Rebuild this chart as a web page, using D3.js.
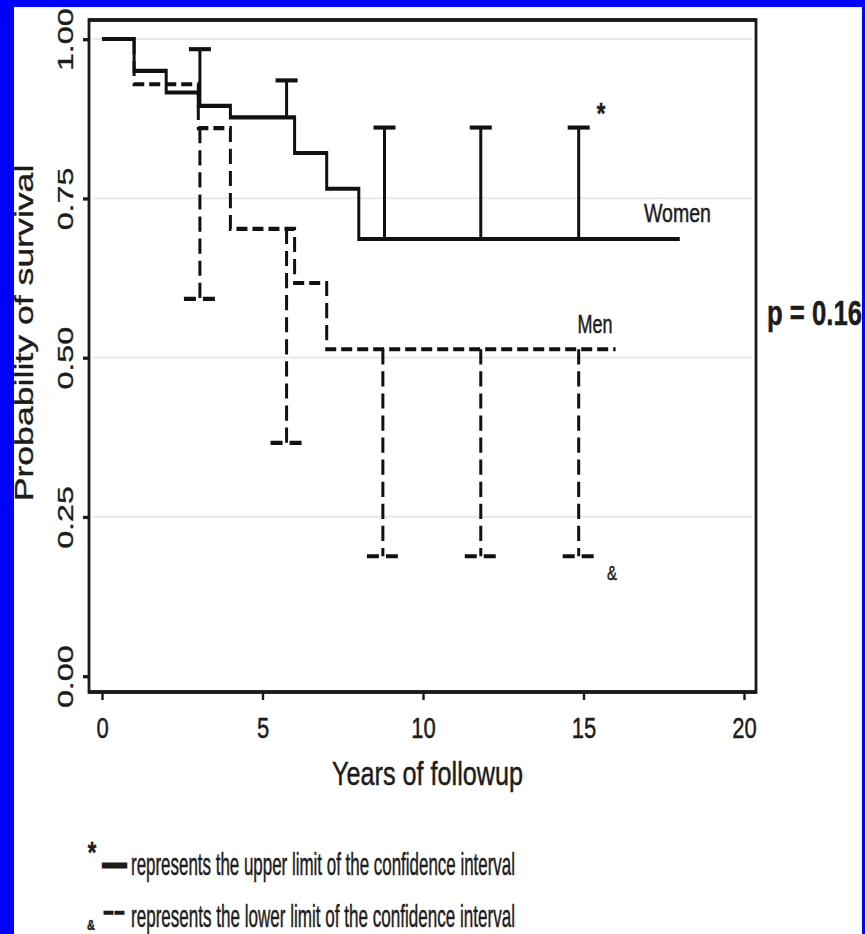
<!DOCTYPE html>
<html>
<head>
<meta charset="utf-8">
<script src="https://cdn.jsdelivr.net/npm/d3@7"></script>
<style>
  body { margin: 0; background: #0000fe; }
  svg { display: block; }
  text { font-family: "Liberation Sans", Arial, sans-serif; fill: #1c1c1c; stroke: #1c1c1c; stroke-width: 0.35; }
</style>
</head>
<body>
<svg id="chart" width="865" height="934"></svg>
<script>
// Kaplan-Meier steps
const womenTimes = [0, 1, 2, 3, 4, 6, 7, 8, 18];
const womenSurv = [1.0, 0.95, 0.916, 0.895, 0.877, 0.821, 0.765, 0.686, 0.686];
const menTimes = [0, 1, 3, 4, 6, 7, 16];
const menSurv = [1.0, 0.929, 0.86, 0.702, 0.617, 0.513, 0.513];

// confidence limits (upper for women, lower for men)
const womenCiTimes = [3.05, 5.75, 8.8, 11.8, 14.85];
const womenUpper = [0.984, 0.935, 0.861, 0.861, 0.861];
const menCiTimes = [3.05, 5.75, 8.75, 11.8, 14.85];
const menLower = [0.592, 0.366, 0.188, 0.188, 0.188];

const xTicks = [0, 5, 10, 15, 20];
const yTicks = [0, 0.25, 0.5, 0.75, 1];
const gridValues = [0.25, 0.5, 0.75, 1];

// the original figure is stretched vertically, so draw in a squashed frame
// and scale the whole group back up
const K = 1.38;
const sy = (v) => v / K;

const svg = d3.select('#chart');

svg.append('rect')
  .attr('x', 0).attr('y', 0)
  .attr('width', 865).attr('height', 934)
  .attr('fill', '#fff');

const g = svg.append('g').attr('transform', `scale(1,${K})`);

// scales
const x = d3.scaleLinear().domain([0, 20]).range([102, 744]);
const y = d3.scaleLinear().domain([0, 1]).range([sy(676), sy(39)]);

const plot = { left: 89, right: 756, top: sy(20), bottom: sy(692) };

// light grid
g.selectAll('.grid')
  .data(gridValues)
  .enter()
  .append('line')
  .attr('x1', plot.left + 4)
  .attr('x2', plot.right - 4)
  .attr('y1', (d) => y(d))
  .attr('y2', (d) => y(d))
  .attr('stroke', '#e8e8e8')
  .attr('stroke-width', 1.5);

// box around the plot
g.append('rect')
  .attr('x', plot.left)
  .attr('y', plot.top)
  .attr('width', plot.right - plot.left)
  .attr('height', plot.bottom - plot.top)
  .attr('fill', 'none')
  .attr('stroke', '#1a1a1a')
  .attr('stroke-width', 2.8);

// y axis
const yAxis = g.append('g')
  .attr('transform', `translate(${plot.left},0)`)
  .call(d3.axisLeft(y).tickValues(yTicks).tickSize(6).tickFormat(d3.format('.2f')));
yAxis.select('.domain').remove();
yAxis.selectAll('line').attr('stroke', '#1a1a1a').attr('stroke-width', 2.4);
yAxis.selectAll('text')
  .attr('transform', 'rotate(-90)')
  .attr('x', 0)
  .attr('y', -16)
  .attr('dy', 0)
  .attr('text-anchor', 'middle')
  .attr('font-size', 22)
  .attr('textLength', 45.5)
  .attr('lengthAdjust', 'spacingAndGlyphs')
  .attr('fill', '#1c1c1c');

// x axis
const xAxis = g.append('g')
  .attr('transform', `translate(0,${plot.bottom})`)
  .call(d3.axisBottom(x).tickValues(xTicks).tickSize(sy(8)));
xAxis.select('.domain').remove();
xAxis.selectAll('line').attr('stroke', '#1a1a1a').attr('stroke-width', 2.4);
xAxis.selectAll('text')
  .attr('y', sy(46))
  .attr('dy', 0)
  .attr('font-size', 22)
  .attr('fill', '#1c1c1c');

// axis titles
g.append('text')
  .attr('transform', `translate(33,${sy(333)}) rotate(-90)`)
  .attr('text-anchor', 'middle')
  .attr('font-size', 25)
  .attr('textLength', 244)
  .attr('lengthAdjust', 'spacingAndGlyphs')
  .text('Probability of survival');

g.append('text')
  .attr('x', 427.5)
  .attr('y', sy(785))
  .attr('text-anchor', 'middle')
  .attr('font-size', 24.5)
  .attr('textLength', 191)
  .attr('lengthAdjust', 'spacingAndGlyphs')
  .text('Years of followup');

// survival curves
const stepLine = d3.line()
  .curve(d3.curveStepAfter)
  .x((d) => x(d[0]))
  .y((d) => y(d[1]));

const women = womenTimes.map((t, i) => [t, womenSurv[i]]);
const men = menTimes.map((t, i) => [t, menSurv[i]]);

const survAt = (times, surv, t) => surv[d3.bisectRight(times, t) - 1];

g.append('path')
  .datum(men)
  .attr('d', stepLine)
  .attr('fill', 'none')
  .attr('stroke', '#111')
  .attr('stroke-width', 3)
  .attr('stroke-dasharray', '11,5');

g.append('path')
  .datum(women)
  .attr('d', stepLine)
  .attr('fill', 'none')
  .attr('stroke', '#111')
  .attr('stroke-width', 3);

// women upper limits (solid, capped)
womenCiTimes.forEach((t, i) => {
  const cx = x(t);
  g.append('line')
    .attr('x1', cx).attr('x2', cx)
    .attr('y1', y(survAt(womenTimes, womenSurv, t)))
    .attr('y2', y(womenUpper[i]))
    .attr('stroke', '#111')
    .attr('stroke-width', 3);
  g.append('line')
    .attr('x1', cx - 11).attr('x2', cx + 11)
    .attr('y1', y(womenUpper[i])).attr('y2', y(womenUpper[i]))
    .attr('stroke', '#111')
    .attr('stroke-width', 3);
});

// men lower limits (dashed, capped)
menCiTimes.forEach((t, i) => {
  const cx = x(t);
  g.append('line')
    .attr('x1', cx).attr('x2', cx)
    .attr('y1', y(survAt(menTimes, menSurv, t)))
    .attr('y2', y(menLower[i]))
    .attr('stroke', '#111')
    .attr('stroke-width', 3)
    .attr('stroke-dasharray', '11,5');
  g.append('line')
    .attr('x1', cx - 16).attr('x2', cx + 17)
    .attr('y1', y(menLower[i])).attr('y2', y(menLower[i]))
    .attr('stroke', '#111')
    .attr('stroke-width', 3)
    .attr('stroke-dasharray', '12,7');
});

// curve labels and markers
g.append('text')
  .attr('x', 677.5).attr('y', sy(222))
  .attr('text-anchor', 'middle')
  .attr('font-size', 19)
  .attr('textLength', 67)
  .attr('lengthAdjust', 'spacingAndGlyphs')
  .text('Women');

g.append('text')
  .attr('x', 595).attr('y', sy(333))
  .attr('text-anchor', 'middle')
  .attr('font-size', 18)
  .attr('textLength', 35)
  .attr('lengthAdjust', 'spacingAndGlyphs')
  .text('Men');

g.append('text')
  .attr('x', 601).attr('y', sy(123))
  .attr('text-anchor', 'middle')
  .attr('font-size', 22)
  .attr('font-weight', 'bold')
  .text('*');

g.append('text')
  .attr('x', 612).attr('y', sy(580))
  .attr('text-anchor', 'middle')
  .attr('font-size', 15)
  .text('&');

g.append('text')
  .attr('x', 767).attr('y', sy(325))
  .attr('font-size', 26)
  .attr('font-weight', 'bold')
  .attr('textLength', 95)
  .attr('lengthAdjust', 'spacingAndGlyphs')
  .text('p = 0.16');

// footnotes
g.append('text')
  .attr('x', 92).attr('y', sy(862))
  .attr('text-anchor', 'middle')
  .attr('font-size', 22)
  .attr('font-weight', 'bold')
  .text('*');

g.append('text')
  .attr('x', 103).attr('y', sy(874))
  .attr('font-size', 21)
  .attr('font-weight', 'bold')
  .attr('textLength', 23)
  .attr('lengthAdjust', 'spacingAndGlyphs')
  .style('stroke-width', 2.2)
  .text('\u2014');

g.append('text')
  .attr('x', 131).attr('y', sy(875))
  .attr('font-size', 22.5)
  .attr('textLength', 384)
  .attr('lengthAdjust', 'spacingAndGlyphs')
  .text('represents the upper limit of the confidence interval');

g.append('text')
  .attr('x', 91).attr('y', sy(930))
  .attr('text-anchor', 'middle')
  .attr('font-size', 11)
  .attr('font-weight', 'bold')
  .text('&');

g.append('text')
  .attr('x', 103).attr('y', sy(921))
  .attr('font-size', 21)
  .attr('textLength', 22)
  .attr('lengthAdjust', 'spacingAndGlyphs')
  .style('stroke-width', 1.2)
  .text('--');

g.append('text')
  .attr('x', 131).attr('y', sy(927))
  .attr('font-size', 22.5)
  .attr('textLength', 384)
  .attr('lengthAdjust', 'spacingAndGlyphs')
  .text('represents the lower limit of the confidence interval');

// blue frame around the slide
svg.append('rect').attr('x', 0).attr('y', 0).attr('width', 865).attr('height', 7).attr('fill', '#0000fe');
svg.append('rect').attr('x', 0).attr('y', 0).attr('width', 14).attr('height', 934).attr('fill', '#0000fe');
svg.append('rect').attr('x', 862).attr('y', 0).attr('width', 3).attr('height', 934).attr('fill', '#0000fe');
</script>
</body>
</html>
